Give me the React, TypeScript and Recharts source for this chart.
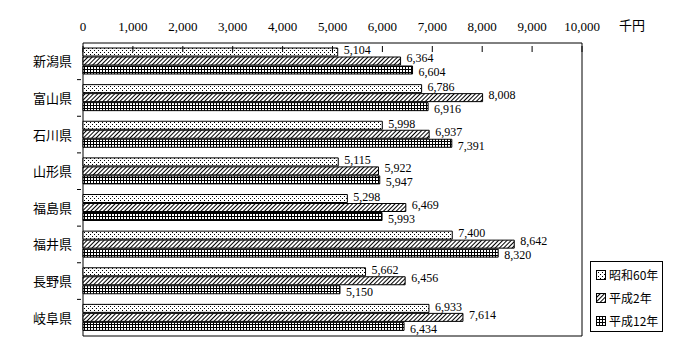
import React from 'react';
import { BarChart, Bar, XAxis, YAxis, LabelList, ReferenceArea } from 'recharts';

const prefectures = ['新潟県', '富山県', '石川県', '山形県', '福島県', '福井県', '長野県', '岐阜県'];
const showa60 = [5104, 6786, 5998, 5115, 5298, 7400, 5662, 6933];
const heisei2 = [6364, 8008, 6937, 5922, 6469, 8642, 6456, 7614];
const heisei12 = [6604, 6916, 7391, 5947, 5993, 8320, 5150, 6434];
const xTicks = [0, 1000, 2000, 3000, 4000, 5000, 6000, 7000, 8000, 9000, 10000];

const series = [
  { key: 's60', name: '昭和60年', fill: 'url(#patDots)', dy: -2 },
  { key: 'h2', name: '平成2年', fill: 'url(#patHatch)', dy: -3 },
  { key: 'h12', name: '平成12年', fill: 'url(#patGrid)', dy: 2 },
];

const data = prefectures.map((p, i) => ({
  name: p,
  s60: showa60[i],
  h2: heisei2[i],
  h12: heisei12[i],
}));

const fmt = (v: any) => Number(v).toLocaleString('en-US');

const numFont = '"Liberation Serif", serif';
const jpFont = '"Noto Sans CJK JP", sans-serif';

const TopTick = (props: any) => {
  const { x, y, payload } = props;
  return (
    <g>
      <text x={x} y={y - 4} textAnchor="middle" fontSize={13} fontFamily={numFont} fill="#000">
        {fmt(payload.value)}
      </text>
      <line x1={x} x2={x} y1={y + 11} y2={y + 17} stroke="#000" strokeWidth={1} />
    </g>
  );
};

const LeftTick = (props: any) => {
  const { x, y, payload, index } = props;
  const half = 293 / prefectures.length / 2;
  return (
    <g>
      <text x={x} y={y + 5} textAnchor="end" fontSize={13} fontFamily={jpFont} fill="#000">
        {payload.value}
      </text>
      {index < prefectures.length - 1 && (
        <line x1={x + 5} x2={x + 9} y1={y + half} y2={y + half} stroke="#000" strokeWidth={1} />
      )}
    </g>
  );
};

const LegendBox = () => (
  <div
    style={{
      position: 'absolute',
      left: 590,
      top: 261,
      border: '1px solid #000',
      background: '#fff',
      width: 73,
      height: 71,
      boxSizing: 'border-box',
      padding: '1px 0 0 5px',
      fontFamily: jpFont,
      fontSize: 12,
      whiteSpace: 'nowrap',
    }}
  >
    {series.map(s => (
      <div key={s.key} style={{ display: 'flex', alignItems: 'center', height: 23 }}>
        <svg width={10} height={10} style={{ marginRight: 3 }}>
          <rect x={0.5} y={0.5} width={9} height={9} fill={s.fill} stroke="#000" />
        </svg>
        <span>{s.name}</span>
      </div>
    ))}
  </div>
);

export default function App() {
  return (
    <div style={{ position: 'absolute', left: 0, top: 0, width: 700, height: 360, background: '#fff' }}>
      <svg width={0} height={0} style={{ position: 'absolute' }}>
        <defs>
          <pattern id="patDots" width={4} height={4} patternUnits="userSpaceOnUse">
            <rect width={4} height={4} fill="#fff" />
            <rect x={0} y={0} width={1} height={1} fill="#000" />
            <rect x={2} y={2} width={1} height={1} fill="#000" />
          </pattern>
          <pattern id="patHatch" width={3} height={3} patternUnits="userSpaceOnUse" patternTransform="rotate(45)">
            <rect width={3} height={3} fill="#fff" />
            <rect x={0} y={0} width={1} height={3} fill="#000" />
          </pattern>
          <pattern id="patGrid" width={3} height={3} patternUnits="userSpaceOnUse">
            <rect width={3} height={3} fill="#000" />
            <rect x={1} y={1} width={2} height={2} fill="#fff" />
          </pattern>
        </defs>
      </svg>
      <BarChart
        width={700}
        height={360}
        data={data}
        layout="vertical"
        margin={{ top: 0, right: 118, bottom: 24, left: 0 }}
        barCategoryGap={5}
        barGap={1}
      >
        <XAxis
          type="number"
          orientation="top"
          domain={[0, 10000]}
          ticks={xTicks}
          interval={0}
          height={43}
          axisLine={false}
          tickLine={false}
          tick={<TopTick />}
        />
        <YAxis
          type="category"
          dataKey="name"
          width={83}
          axisLine={false}
          tickLine={false}
          tick={<LeftTick />}
          tickMargin={5}
        />
        <ReferenceArea x1={0} x2={10000} fill="none" stroke="#000" strokeWidth={1} ifOverflow="extendDomain" />
        {series.map(s => (
          <Bar
            key={s.key}
            dataKey={s.key}
            name={s.name}
            fill={s.fill}
            stroke="#000"
            strokeWidth={1}
            isAnimationActive={false}
          >
            <LabelList
              dataKey={s.key}
              position="right"
              offset={6}
              formatter={fmt}
              dy={s.dy}
              style={{ fontSize: 12, fontFamily: numFont, fill: '#000' }}
            />
          </Bar>
        ))}
      </BarChart>
      <LegendBox />
      <div
        style={{
          position: 'absolute',
          left: 619,
          top: 15,
          fontFamily: jpFont,
          fontSize: 13,
          color: '#000',
        }}
      >
        千円
      </div>
    </div>
  );
}
